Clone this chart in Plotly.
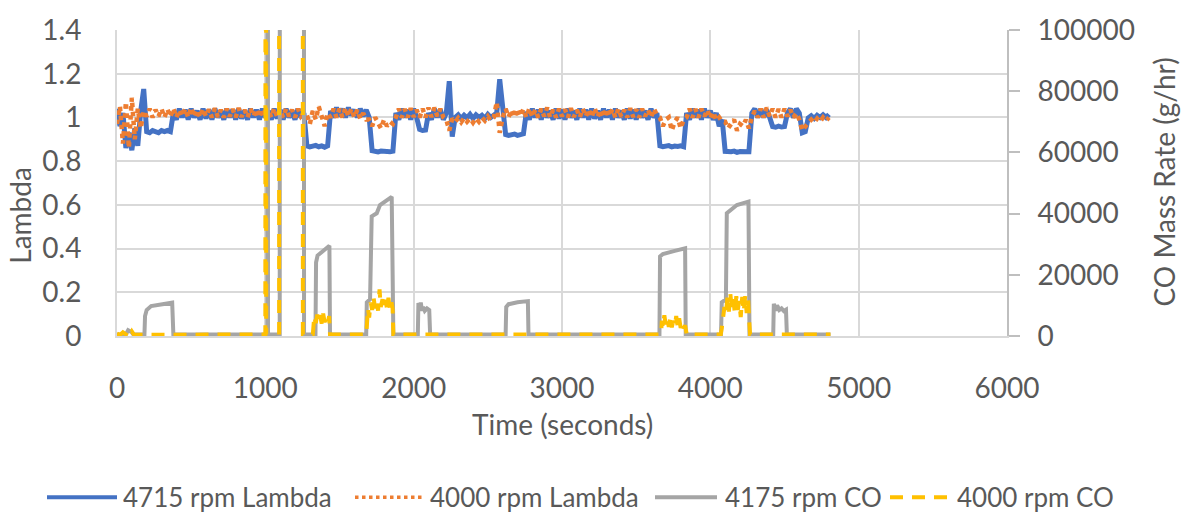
import numpy as np
import plotly.graph_objects as go

# ---------------------------------------------------------------- data
SAMPLE_STEP = 20  # seconds between lambda samples

# 4715 rpm Lambda (left axis), one value every 20 s, grouped by test phase
blue_segments = [
    [1.04, 0.96, 1.02, 0.86, 0.93, 0.85, 0.95, 0.87, 1.03, 1.13],
    [0.935, 0.93, 0.94, 0.935, 0.93, 0.94, 0.935, 0.94, 0.935],
    [1.02, 0.99, 1.04, 1.0, 1.035, 0.99, 1.04, 1.0, 1.03, 0.99,
     1.04, 0.995, 1.035, 0.99, 1.04, 1.0, 1.03, 0.99, 1.04, 1.0,
     1.035, 0.99, 1.04, 0.995, 1.03, 0.99, 1.04, 1.0, 1.035, 0.99,
     1.04, 1.0, 1.03, 0.99, 1.04, 0.995, 1.035, 0.99, 1.04, 1.0,
     1.03, 0.99, 1.04, 1.0, 1.02],
    [0.87, 0.865, 0.868, 0.872, 0.866, 0.87, 0.864, 0.87],
    [1.03, 1.0, 1.045, 1.005, 1.04, 1.0, 1.045, 1.01, 1.035, 1.0, 1.04, 1.005, 1.035, 1.0],
    [0.848, 0.845, 0.842, 0.846, 0.844, 0.847, 0.843, 0.846],
    [1.02, 0.99, 1.04, 1.0, 1.035, 0.99, 1.04, 1.0],
    [0.945, 0.94, 0.942],
    [1.02, 0.99, 1.04, 1.0, 1.035, 0.99, 1.02],
    [1.166, 0.912],
    [1.0, 1.012, 0.995, 1.01, 0.998, 1.014, 0.995, 1.012, 1.0, 1.01, 0.995, 1.014, 1.0, 1.01, 1.02],
    [1.175],
    [1.02],
    [0.922, 0.918, 0.92, 0.924, 0.918, 0.921, 0.925],
    [1.025, 0.99, 1.04, 1.0, 1.035, 0.99, 1.04, 1.0, 1.03, 0.99,
     1.04, 0.995, 1.035, 0.99, 1.04, 1.0, 1.03, 0.99, 1.04, 1.0,
     1.035, 0.99, 1.04, 0.995, 1.03, 0.99, 1.04, 1.0, 1.035, 0.99,
     1.04, 1.0, 1.03, 0.99, 1.04, 0.995, 1.035, 0.99, 1.04, 1.0,
     1.03, 0.99, 1.04, 1.0, 1.02],
    [0.87, 0.866, 0.868, 0.871, 0.865, 0.869, 0.867, 0.87, 0.866],
    [1.02, 0.99, 1.04, 1.0, 1.035, 0.99, 1.04, 1.0, 1.03, 0.99, 1.02, 0.96, 0.99],
    [0.845, 0.842, 0.843, 0.846, 0.84, 0.844, 0.842, 0.845, 0.843],
    [1.02, 1.04, 1.0, 1.04, 1.0, 1.035, 1.0],
    [0.958, 0.955, 0.96, 0.956, 0.958],
    [1.02, 1.04, 1.0, 1.04, 1.02],
    [0.93, 0.935],
    [0.998, 1.008, 0.995, 1.01, 1.0, 1.012, 1.0, 1.014],
]

# 4000 rpm Lambda (left axis), same 20 s sampling
orange_segments = [
    [0.97, 1.05, 0.88, 1.07, 0.86, 1.09, 0.9, 1.04, 0.95, 1.03],
    [1.005, 1.04, 1.0, 1.035, 1.005, 1.04, 1.0, 1.038, 1.002, 1.042,
     1.0, 1.035, 1.005, 1.04, 1.0, 1.045, 1.002, 1.035, 1.0, 1.04,
     1.005, 1.037, 1.0, 1.042, 1.002, 1.035, 1.0, 1.04, 1.004, 1.038,
     1.0, 1.043, 1.002, 1.035, 1.0, 1.04, 1.005, 1.038, 1.0, 1.04,
     1.003, 1.035, 1.0, 1.042, 1.002, 1.037, 1.0, 1.04, 1.005, 1.035,
     1.0, 1.04, 1.005, 1.02],
    [1.01, 0.97, 1.03, 0.99, 1.05, 1.0, 0.96, 1.02],
    [1.0, 1.04, 1.0, 1.04, 1.0, 1.045, 1.005, 1.04, 1.0, 1.035, 0.995, 1.02, 0.99],
    [0.99, 0.96, 1.0, 0.97, 0.95, 0.99, 0.96, 0.98, 0.97],
    [1.0, 1.04, 1.0, 1.038, 1.0, 1.042, 1.002, 1.035, 1.0, 1.04,
     1.0, 1.045, 1.002, 1.045, 1.005, 1.04, 1.0],
    [0.99, 0.94, 0.995, 0.98, 0.997, 0.978, 0.998, 0.98, 0.995, 0.976,
     0.997, 0.98, 1.0, 0.985, 1.005, 0.985, 1.0],
    [1.07, 0.93],
    [1.0, 1.04, 1.002, 1.035, 1.0, 1.04, 1.005, 1.038, 1.0, 1.042,
     1.002, 1.035, 1.0, 1.04, 1.005, 1.045, 1.0, 1.035, 1.0, 1.04,
     1.005, 1.037, 1.0, 1.042, 1.002, 1.035, 1.0, 1.04, 1.004, 1.038,
     1.0, 1.043, 1.002, 1.035, 1.0, 1.04, 1.005, 1.038, 1.0, 1.04,
     1.003, 1.035, 1.0, 1.042, 1.002, 1.037, 1.0, 1.04, 1.005, 1.035,
     1.0, 1.04, 1.01],
    [1.0, 0.96, 0.99, 1.0, 0.94, 0.98, 1.0, 0.95, 0.99],
    [1.0, 1.04, 1.0, 1.038, 1.0, 1.04, 1.005, 1.035, 0.995, 1.025, 0.985, 1.0, 0.98],
    [0.98, 0.95, 0.97, 0.99, 0.94, 0.97, 0.96, 0.99, 0.95],
    [1.0, 1.03, 1.0, 1.04, 1.0, 1.045, 1.005, 1.04, 1.0, 1.038,
     1.0, 1.04, 1.005, 1.035, 1.0, 1.02, 0.99],
    [0.94, 0.96],
    [0.975, 0.99, 0.975, 0.995, 0.98, 1.0, 0.985, 1.0],
]

# 4175 rpm CO mass rate (right axis), breakpoints in seconds / g/hr
gray_time = [0, 60, 75, 100, 110, 185, 189, 200, 230, 300, 372, 380,
             1014, 1016, 1018, 1097, 1099, 1259, 1261,
             1338, 1342, 1352, 1432, 1436,
             1680, 1684, 1706, 1717, 1751, 1773, 1852, 1863,
             2028, 2032, 2040, 2048, 2056, 2064, 2075, 2090, 2105, 2111,
             2620, 2624, 2640, 2700, 2770, 2774,
             3657, 3661, 3680, 3760, 3830, 3834,
             4072, 4077, 4105, 4111, 4179, 4257, 4264,
             4424, 4428, 4440, 4450, 4465, 4480, 4495, 4510, 4516, 4810]
gray_co = [500, 500, 1900, 1200, 500, 500, 6500, 8500, 9800, 10400, 10900, 500,
           500, 400000, 500, 500, 400000, 400000, 500,
           500, 24000, 26300, 29500, 500,
           500, 11000, 12000, 39100, 40100, 42800, 45500, 500,
           500, 10800, 8500, 10900, 8300, 9500, 8200, 9000, 8500, 500,
           500, 9500, 10400, 11000, 11400, 500,
           500, 26000, 26800, 27800, 28660, 500,
           500, 11000, 11950, 40150, 42800, 43900, 500,
           500, 10500, 8300, 10000, 8500, 9000, 8200, 8600, 500, 500]

# 4000 rpm CO mass rate (right axis); None marks dropped samples
yellow_time = [0, 20, 40, 60, 75, 90, 100, 115, 1000, 1003, 1006, None,
               1092, 1093, None, 1252, 1253,
               1320, 1324, 1330, 1340, 1350, 1360, 1370, 1380, 1390, 1400, 1410, 1420, 1430, 1436,
               1680, 1684, 1692, 1700, 1710, 1720, 1730, 1740, 1750, 1760, 1770, 1778,
               1790, 1800, 1810, 1820, 1830, 1840, 1850, 1858, 1863,
               3668, 3673, 3680, 3690, 3700, 3710, 3720, 3730, 3740, 3750, 3760, 3770,
               3780, 3790, 3800, 3810, 3820, 3830, 3841,
               4070, 4077, 4085, 4095, 4105, 4115, 4125, 4135, 4145, 4155, 4165, 4175,
               4185, 4195, 4205, 4215, 4225, 4235, 4245, 4255, 4262, 4268, 4810]
yellow_co = [800, 300, 1200, 500, 1700, 600, 1500, 400, 500, 400000, 500, None,
             400000, 500, None, 400000, 500,
             500, 4000, 6500, 4200, 7000, 4800, 6800, 4000, 7300, 4500, 6000, 4100, 6500, 500,
             500, 3000, 9000, 6000, 11000, 8500, 12500, 9000, 11500, 8300, 15200, 9500,
             12000, 8800, 11800, 9000, 12500, 8400, 11000, 9000, 500,
             500, 5000, 3000, 6800, 3500, 5500, 3000, 6000, 2800, 5000, 3200, 6500,
             3000, 5800, 2600, 4500, 2500, 3500, 500,
             500, 2500, 5000, 9500, 7000, 12500, 8000, 13700, 9000, 12000, 7500, 13000,
             8500, 11500, 6200, 12800, 8000, 13000, 7500, 12000, 5000, 500, 500]

x_ticks = [0, 1000, 2000, 3000, 4000, 5000, 6000]
lambda_ticks = [0, 0.2, 0.4, 0.6, 0.8, 1, 1.2, 1.4]
co_ticks = [0, 20000, 40000, 60000, 80000, 100000]

series_names = ["4715 rpm Lambda", "4000 rpm Lambda", "4175 rpm CO", "4000 rpm CO"]

blue = [v for seg in blue_segments for v in seg]
orange = [v for seg in orange_segments for v in seg]
blue_t = np.arange(len(blue)) * SAMPLE_STEP
orange_t = np.arange(len(orange)) * SAMPLE_STEP

# ---------------------------------------------------------------- layout helpers
W, H = 1183, 516
ML, MR, MT, MB = 117, 176, 23, 180
PW, PH = W - ML - MR, H - MT - MB


def fx(px):
    return (px - ML) / PW


def fy(py):
    return (H - MB - py) / PH


FONT = "Lato"
TXT = "#595959"
GRID = "#D9D9D9"

BLUE, ORANGE, GRAY, YELLOW = "#4472C4", "#ED7D31", "#A5A5A5", "#FFC000"
YDASH = "13px,9px"

fig = go.Figure()
fig.add_trace(go.Scatter(x=blue_t, y=blue, mode="lines", name=series_names[0],
                         line=dict(color=BLUE, width=5)))
fig.add_trace(go.Scatter(x=orange_t, y=orange, mode="lines", name=series_names[1],
                         line=dict(color=ORANGE, width=4.5, dash="dot")))
fig.add_trace(go.Scatter(x=gray_time, y=gray_co, mode="lines", name=series_names[2],
                         yaxis="y2", line=dict(color=GRAY, width=4)))
fig.add_trace(go.Scatter(x=yellow_time, y=yellow_co, mode="lines", name=series_names[3],
                         yaxis="y2", connectgaps=False,
                         line=dict(color=YELLOW, width=4, dash=YDASH)))

fig.update_layout(
    width=W, height=H,
    margin=dict(l=ML, r=MR, t=MT, b=MB, pad=0),
    paper_bgcolor="white", plot_bgcolor="white",
    showlegend=False,
    font=dict(family=FONT, color=TXT, size=27),
    xaxis=dict(range=[0, 6000], tickvals=x_ticks, showgrid=True, gridcolor=GRID, gridwidth=2,
               showline=True, linecolor=GRID, linewidth=2, zeroline=False, ticks="",
               ticklabelstandoff=26, tickfont=dict(size=28, color=TXT, family=FONT)),
    yaxis=dict(range=[0, 1.4], tickvals=lambda_ticks, showgrid=True, gridcolor=GRID, gridwidth=2,
               showline=True, linecolor=GRID, linewidth=2, zeroline=False, ticks="",
               ticklabelstandoff=28, tickfont=dict(size=28, color=TXT, family=FONT)),
    yaxis2=dict(range=[0, 100000], tickvals=co_ticks, tickformat="d", overlaying="y", side="right",
                showgrid=False, showline=True, linecolor="#BFBFBF", linewidth=2, zeroline=False,
                ticks="outside", ticklen=11, tickwidth=2, tickcolor="#BFBFBF",
                ticklabelstandoff=12, tickfont=dict(size=28, color=TXT, family=FONT)),
)

annotations = [
    dict(text="Lambda", x=fx(20), y=fy(213), textangle=-90, font=dict(size=28)),
    dict(text="CO Mass Rate (g/hr)", x=fx(1164), y=fy(179), textangle=-90, font=dict(size=28)),
    dict(text="Time (seconds)", x=fx(562), y=fy(426), font=dict(size=28)),
]
for a in annotations:
    a.update(xref="paper", yref="paper", showarrow=False, xanchor="center", yanchor="middle")

# legend row drawn along the bottom
LEG_Y = 501
legend_items = [
    (47, 117, 121, dict(color=BLUE, width=4)),
    (355, 423, 428, dict(color=ORANGE, width=3.5, dash="dot")),
    (655, 717, 723, dict(color=GRAY, width=4)),
    (890, 950, 955, dict(color=YELLOW, width=4, dash=YDASH)),
]
shapes = []
for (x0, x1, xt, ln), name in zip(legend_items, series_names):
    shapes.append(dict(type="line", xref="paper", yref="paper",
                       x0=fx(x0), x1=fx(x1), y0=fy(LEG_Y), y1=fy(LEG_Y), line=ln))
    annotations.append(dict(text=name, xref="paper", yref="paper", x=fx(xt), y=fy(LEG_Y),
                            xanchor="left", yanchor="middle", showarrow=False,
                            font=dict(size=26)))

fig.update_layout(annotations=annotations, shapes=shapes)
fig.write_html("out.html")
